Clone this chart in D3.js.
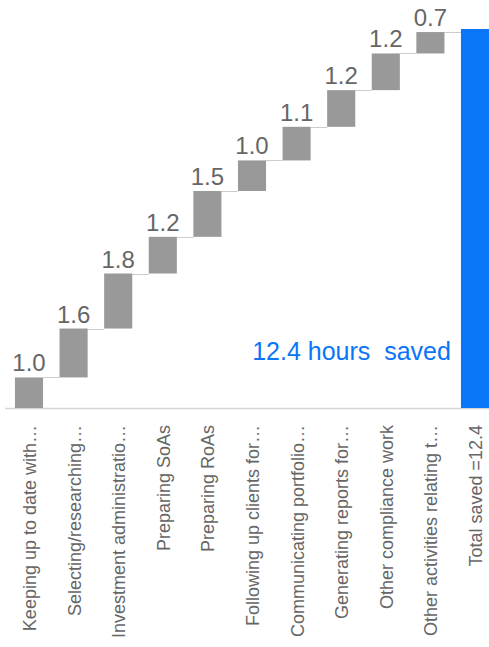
<!DOCTYPE html>
<html>
<head>
<meta charset="utf-8">
<script src="https://cdn.jsdelivr.net/npm/d3@7"></script>
<style>
  html, body { margin: 0; padding: 0; background: #fff; }
  svg { display: block; font-family: "Liberation Sans", Arial, sans-serif; }
</style>
</head>
<body>
<svg id="chart" width="489" height="647"></svg>
<script>
const categories = [
  "Keeping up to date with…",
  "Selecting/researching…",
  "Investment administratio…",
  "Preparing SoAs",
  "Preparing RoAs",
  "Following up clients for…",
  "Communicating portfolio…",
  "Generating reports for…",
  "Other compliance work",
  "Other activities relating t…",
  "Total saved =12.4"
];
const values = [1.0, 1.6, 1.8, 1.2, 1.5, 1.0, 1.1, 1.2, 1.2, 0.7];
const total = 12.4;
const yTicks = [0, 12.4];
const annotation = "12.4 hours  saved";

const svg = d3.select("#chart");
const W = 489, H = 647;
const baseY = 408;

// build waterfall rows
let cum = 0;
const rows = values.map((v, i) => {
  const r = { cat: categories[i], start: cum, end: cum + v, value: v, total: false };
  cum += v;
  return r;
});
rows.push({ cat: categories[10], start: 0, end: total, value: total, total: true });

const x = d3.scaleBand()
  .domain(categories)
  .range([6.7, 497.3])
  .paddingInner(0.37)
  .paddingOuter(0.185);

const y = d3.scaleLinear()
  .domain(d3.extent(yTicks))
  .range([baseY, 29]);

// baseline axis
svg.append("line")
  .attr("x1", 5).attr("x2", W)
  .attr("y1", baseY + 0.5).attr("y2", baseY + 0.5)
  .attr("stroke", "#d6d6d6").attr("stroke-width", 1.5);

// connectors
svg.append("g").selectAll("line")
  .data(rows.slice(0, -1))
  .join("line")
  .attr("x1", (d) => x(d.cat) + x.bandwidth())
  .attr("x2", (d, i) => x(rows[i + 1].cat))
  .attr("y1", (d) => Math.round(y(d.end)) + 0.5)
  .attr("y2", (d) => Math.round(y(d.end)) + 0.5)
  .attr("stroke", "#cccccc").attr("stroke-width", 1);

// bars
svg.append("g").selectAll("rect")
  .data(rows)
  .join("rect")
  .attr("x", (d) => x(d.cat))
  .attr("width", x.bandwidth())
  .attr("y", (d) => y(d.end))
  .attr("height", (d) => y(d.start) - y(d.end))
  .attr("fill", (d) => d.total ? "#0a75f7" : "#999999");

// value labels
svg.append("g").selectAll("text")
  .data(rows.filter((d) => !d.total))
  .join("text")
  .attr("x", (d) => x(d.cat) + x.bandwidth() / 2)
  .attr("y", (d) => y(d.end) - 6)
  .attr("text-anchor", "middle")
  .attr("font-size", 24)
  .attr("fill", "#666666")
  .text((d) => d3.format(".1f")(d.value));

// annotation
svg.append("text")
  .attr("x", x(categories[10]) - 10)
  .attr("y", baseY - 48)
  .attr("text-anchor", "end")
  .attr("font-size", 25)
  .attr("fill", "#0a75f7")
  .style("white-space", "pre")
  .text(annotation);

// category labels (rotated)
const xAxis = d3.axisBottom(x).tickSize(0).tickPadding(0);
const gx = svg.append("g").attr("transform", `translate(0,${baseY})`).call(xAxis);
gx.select(".domain").remove();
gx.selectAll(".tick text")
  .attr("font-family", "Liberation Sans, Arial, sans-serif")
  .attr("font-size", 18)
  .attr("fill", "#666666")
  .attr("text-anchor", "end")
  .attr("dy", null)
  .attr("y", 0)
  .attr("transform", "translate(7,17) rotate(-90)");
</script>
</body>
</html>
